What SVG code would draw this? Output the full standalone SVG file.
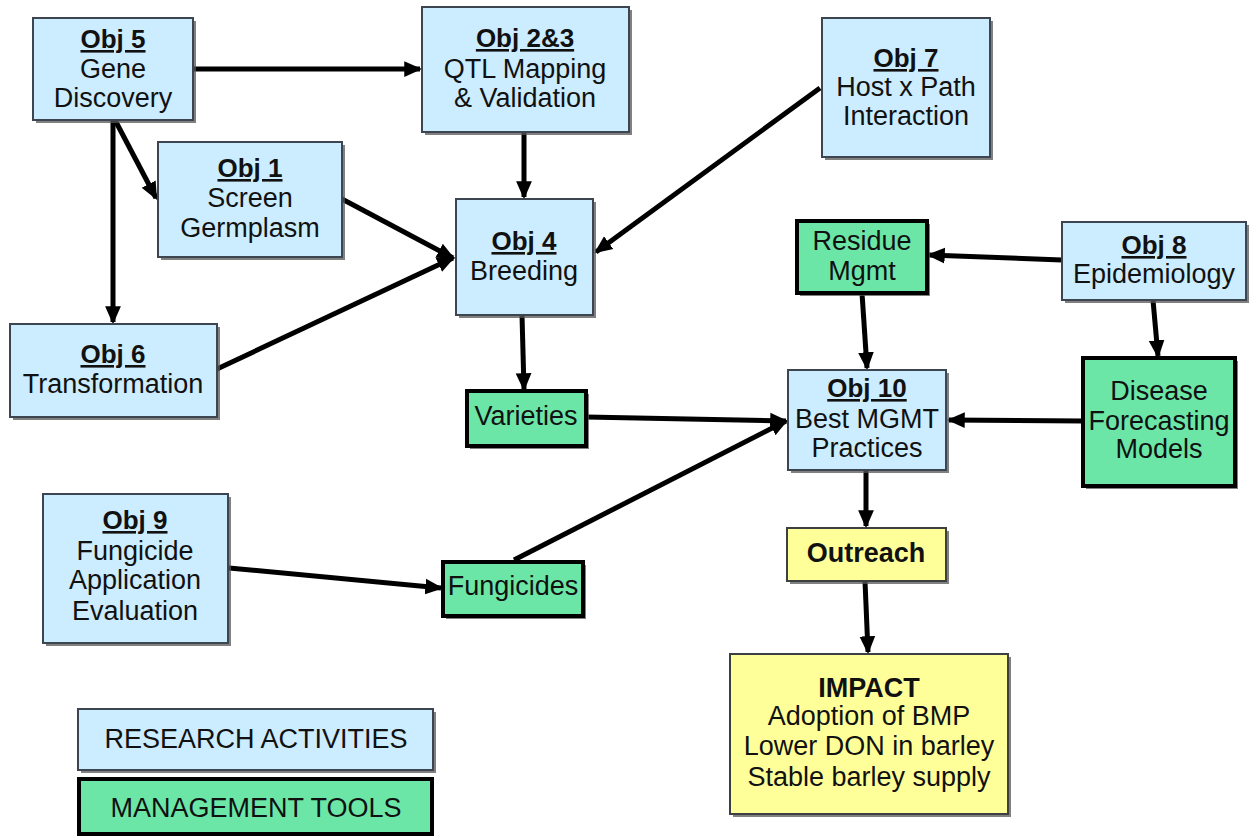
<svg xmlns="http://www.w3.org/2000/svg" width="1251" height="837" viewBox="0 0 1251 837">
<style>
text{font-family:"Liberation Sans",Arial,sans-serif;font-size:27px;fill:#111;text-anchor:middle}
.h{font-weight:bold;text-decoration:underline;font-size:26px}
.b{font-weight:bold}
.blue{fill:#CCECFF;stroke:#3d4650;stroke-width:2}
.green{fill:#6CE6A6;stroke:#000;stroke-width:4}
.yellow{fill:#FFFF99;stroke:#3d4040;stroke-width:2}
.sh{fill:#555;opacity:0.75}
.c{stroke:#000;stroke-width:5;fill:none;marker-end:url(#ah)}
</style>
<defs>
<marker id="ah" markerUnits="userSpaceOnUse" markerWidth="18" markerHeight="18" viewBox="0 0 16 16" refX="14" refY="8" orient="auto">
<path d="M0,1 L16,8 L0,15 z" fill="#000"/>
</marker>
</defs>
<rect width="1251" height="837" fill="#fff"/>
<g id="connectors">
<line class="c" x1="193" y1="69" x2="420" y2="69"/>
<line class="c" x1="115" y1="120" x2="156" y2="198"/>
<line class="c" x1="113" y1="120" x2="113" y2="322"/>
<line class="c" x1="342" y1="199" x2="453" y2="258"/>
<line class="c" x1="217" y1="369" x2="453" y2="258"/>
<line class="c" x1="524" y1="132" x2="524" y2="197"/>
<line class="c" x1="820" y1="88" x2="596" y2="252"/>
<line class="c" x1="522" y1="315" x2="524" y2="389"/>
<line class="c" x1="586" y1="417" x2="786" y2="421"/>
<line class="c" x1="514" y1="560" x2="786" y2="421"/>
<line class="c" x1="229" y1="568" x2="441" y2="588"/>
<line class="c" x1="1062" y1="260" x2="929" y2="255"/>
<line class="c" x1="862" y1="293" x2="867" y2="368"/>
<line class="c" x1="1153" y1="300" x2="1158" y2="356"/>
<line class="c" x1="1083" y1="421" x2="949" y2="420"/>
<line class="c" x1="866" y1="470" x2="866" y2="526"/>
<line class="c" x1="865" y1="581" x2="868" y2="652"/>
</g>
<g id="obj5">
<rect class="sh" x="36" y="21" width="160" height="102"/>
<rect class="blue" x="33" y="18" width="160" height="102"/>
<text class="h" x="113" y="48">Obj 5</text>
<text x="113" y="78">Gene</text>
<text x="113" y="107">Discovery</text>
</g>
<g id="obj1">
<rect class="sh" x="161" y="145" width="184" height="115"/>
<rect class="blue" x="158" y="142" width="184" height="115"/>
<text class="h" x="250" y="177">Obj 1</text>
<text x="250" y="207">Screen</text>
<text x="250" y="237">Germplasm</text>
</g>
<g id="obj23">
<rect class="sh" x="425" y="10" width="207" height="125"/>
<rect class="blue" x="422" y="7" width="207" height="125"/>
<text class="h" x="525" y="47">Obj 2&amp;3</text>
<text x="525" y="78">QTL Mapping</text>
<text x="525" y="107">&amp; Validation</text>
</g>
<g id="obj7">
<rect class="sh" x="825" y="21" width="168" height="139"/>
<rect class="blue" x="822" y="18" width="168" height="139"/>
<text class="h" x="906" y="67">Obj 7</text>
<text x="906" y="96">Host x Path</text>
<text x="906" y="125">Interaction</text>
</g>
<g id="obj4">
<rect class="sh" x="459" y="202" width="137" height="116"/>
<rect class="blue" x="456" y="199" width="137" height="116"/>
<text class="h" x="524" y="250">Obj 4</text>
<text x="524" y="280">Breeding</text>
</g>
<g id="obj6">
<rect class="sh" x="13" y="327" width="207" height="93"/>
<rect class="blue" x="10" y="324" width="207" height="93"/>
<text class="h" x="113" y="363">Obj 6</text>
<text x="113" y="393">Transformation</text>
</g>
<g id="residue">
<rect class="sh" x="800" y="224" width="130" height="72"/>
<rect class="green" x="797" y="221" width="130" height="72"/>
<text x="862" y="250">Residue</text>
<text x="862" y="280">Mgmt</text>
</g>
<g id="obj8">
<rect class="sh" x="1065" y="225" width="184" height="78"/>
<rect class="blue" x="1062" y="222" width="184" height="78"/>
<text class="h" x="1154" y="254">Obj 8</text>
<text x="1154" y="283">Epidemiology</text>
</g>
<g id="varieties">
<rect class="sh" x="470" y="394" width="119" height="55"/>
<rect class="green" x="467" y="391" width="119" height="55"/>
<text x="526" y="425">Varieties</text>
</g>
<g id="obj10">
<rect class="sh" x="791" y="373" width="158" height="100"/>
<rect class="blue" x="788" y="370" width="158" height="100"/>
<text class="h" x="867" y="397">Obj 10</text>
<text x="867" y="428">Best MGMT</text>
<text x="867" y="457">Practices</text>
</g>
<g id="disease">
<rect class="sh" x="1086" y="361" width="152" height="128"/>
<rect class="green" x="1083" y="358" width="152" height="128"/>
<text x="1159" y="400">Disease</text>
<text x="1159" y="430">Forecasting</text>
<text x="1159" y="458">Models</text>
</g>
<g id="obj9">
<rect class="sh" x="46" y="497" width="185" height="149"/>
<rect class="blue" x="43" y="494" width="185" height="149"/>
<text class="h" x="135" y="529">Obj 9</text>
<text x="135" y="560">Fungicide</text>
<text x="135" y="589">Application</text>
<text x="135" y="620">Evaluation</text>
</g>
<g id="fungicides">
<rect class="sh" x="446" y="565" width="140" height="54"/>
<rect class="green" x="443" y="562" width="140" height="54"/>
<text x="513" y="595">Fungicides</text>
</g>
<g id="outreach">
<rect class="sh" x="790" y="531" width="159" height="53"/>
<rect class="yellow" x="787" y="528" width="159" height="53"/>
<text class="b" x="866" y="562">Outreach</text>
</g>
<g id="impact">
<rect class="sh" x="733" y="657" width="278" height="160"/>
<rect class="yellow" x="730" y="654" width="278" height="160"/>
<text class="b" x="869" y="697">IMPACT</text>
<text x="869" y="725">Adoption of BMP</text>
<text x="869" y="755">Lower DON in barley</text>
<text x="869" y="786">Stable barley supply</text>
</g>
<g id="legend-research">
<rect class="sh" x="81" y="712" width="355" height="61"/>
<rect class="blue" x="78" y="709" width="355" height="61"/>
<text x="256" y="748">RESEARCH ACTIVITIES</text>
</g>
<g id="legend-management">
<rect class="green" x="79" y="779" width="353" height="55"/>
<text x="256" y="817">MANAGEMENT TOOLS</text>
</g>
</svg>
